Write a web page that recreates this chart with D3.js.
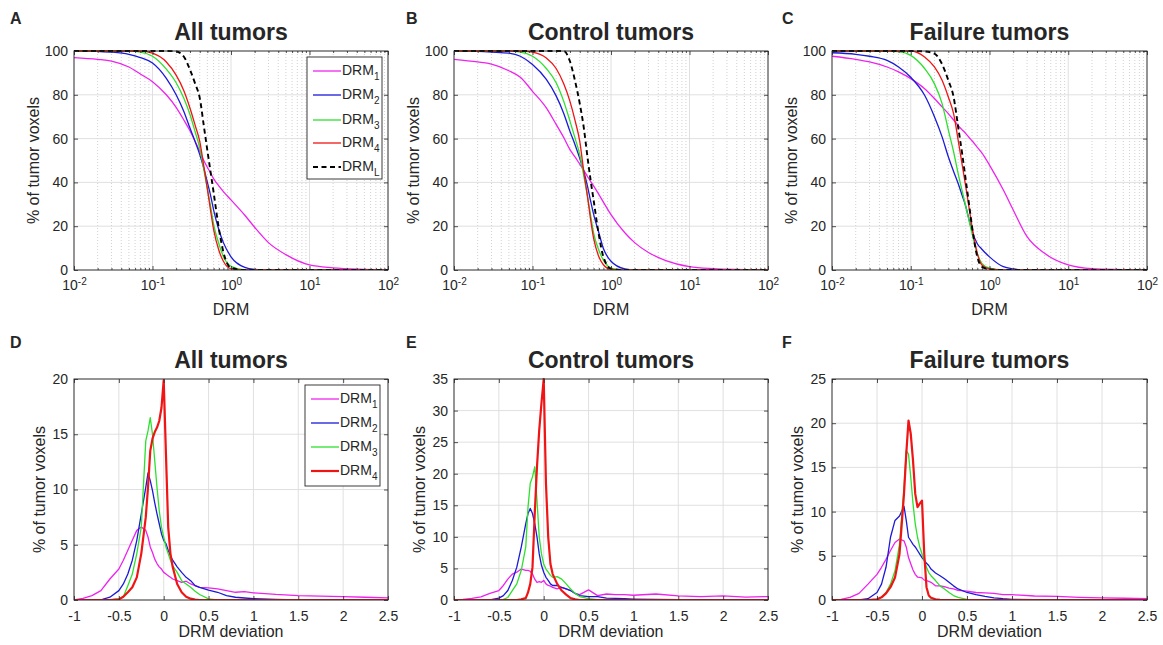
<!DOCTYPE html>
<html>
<head>
<meta charset="utf-8">
<script src="https://cdn.jsdelivr.net/npm/d3@7"></script>
<style>
  body { margin: 0; background: #fff; }
  svg { display: block; }
  text { font-family: "Liberation Sans", Arial, sans-serif; fill: #262626; }
</style>
</head>
<body>
<div id="figure"></div>
<script>
//*************************1. Data

//------------------------ cumulative curves (top row), x = DRM
const drmValues = [0.01, 0.02, 0.03, 0.05, 0.07, 0.1, 0.15, 0.2, 0.25, 0.3, 0.35, 0.4, 0.45, 0.5, 0.55, 0.6, 0.7, 0.8, 1, 1.5, 2, 3, 5, 10, 20, 50, 100]

const allDrm1 = [97, 96.2, 95.4, 92.7, 89.5, 86, 80, 74.3, 68.6, 63.6, 58.7, 54.2, 50, 46.9, 44.3, 41.7, 38.4, 35.8, 32, 25, 19.5, 12.5, 7, 2.3, 1, 0.3, 0]
const allDrm2 = [100, 99.8, 99.5, 98.5, 97, 94.5, 87.5, 80, 72.5, 64.8, 58.5, 52.7, 46.5, 40, 34, 27.5, 18.4, 12.5, 6, 1.2, 0.3, 0, 0, 0, 0, 0, 0]
const allDrm3 = [100, 100, 100, 99.9, 99.5, 97.6, 91.7, 85.5, 78.5, 71, 63, 55.7, 46, 37, 29, 21, 12, 6.2, 1.7, 0.1, 0, 0, 0, 0, 0, 0, 0]
const allDrm4 = [100, 100, 100, 100, 100, 99, 95, 89, 82, 74, 66, 58.7, 47.5, 37, 27, 18.5, 9, 4, 0.6, 0, 0, 0, 0, 0, 0, 0, 0]
const allDrmL = [100, 100, 100, 100, 100, 100, 100, 99.8, 97.5, 91.5, 85, 78.5, 66, 54.6, 44.6, 35.5, 19, 8.2, 1, 0, 0, 0, 0, 0, 0, 0, 0]

const controlDrm1 = [96.2, 95, 94, 91, 88, 81.6, 74, 66.5, 60.5, 55, 51.5, 48.3, 45.5, 42.8, 40.5, 38.4, 34.5, 31, 25.3, 17, 12.5, 8, 4.3, 1.5, 0.6, 0.2, 0]
const controlDrm2 = [100, 99.8, 99.5, 99, 97.6, 93.8, 87, 79.5, 71.5, 63.3, 57, 51, 45, 38.5, 31.5, 25.5, 17, 9.8, 4, 0.5, 0, 0, 0, 0, 0, 0, 0]
const controlDrm3 = [100, 100, 100, 99.9, 99.5, 97.6, 92, 85.5, 77, 68, 60, 52.7, 43, 34, 25, 17, 9, 4.5, 0.9, 0, 0, 0, 0, 0, 0, 0, 0]
const controlDrm4 = [100, 100, 100, 100, 100, 99.5, 96.8, 92, 85, 77, 68, 58.7, 45, 34, 23, 14.5, 6, 2.4, 0.3, 0, 0, 0, 0, 0, 0, 0, 0]
const controlDrmL = [100, 100, 100, 100, 100, 100, 100, 100, 100, 95.3, 86, 76, 65, 52, 41, 32, 16, 6, 0.6, 0, 0, 0, 0, 0, 0, 0, 0]

const failureDrm1 = [97.6, 96.2, 95, 92.7, 90.5, 87.4, 82.8, 78.3, 74.5, 71.4, 68.5, 66, 64, 62.3, 60.5, 59, 56, 53.5, 47.9, 36.5, 27.4, 15.2, 7.6, 2.3, 0.6, 0.2, 0]
const failureDrm2 = [99.2, 98.5, 97.6, 95.7, 92.7, 88, 79.8, 70, 60.8, 51.7, 45, 39.5, 34, 29, 23, 18, 12, 9.5, 6, 1.5, 0.5, 0, 0, 0, 0, 0, 0]
const failureDrm3 = [100, 100, 100, 100, 99.7, 98, 92, 85, 76, 64, 54, 44, 36, 29, 22.5, 16.7, 7.6, 3, 0.8, 0, 0, 0, 0, 0, 0, 0, 0]
const failureDrm4 = [100, 100, 100, 100, 100, 100, 97.3, 92.7, 86.6, 79, 71.4, 59.3, 48, 38, 28.5, 19.8, 7.6, 2.3, 0.5, 0, 0, 0, 0, 0, 0, 0, 0]
const failureDrmL = [100, 100, 100, 100, 100, 100, 99.8, 98.8, 94, 86.6, 79, 65.3, 53, 41, 30, 19.8, 6, 1.5, 0.3, 0, 0, 0, 0, 0, 0, 0, 0]

//------------------------ deviation histograms (bottom row), x = DRM deviation
const deviationValues = [-1, -0.9, -0.8, -0.7, -0.6, -0.5, -0.45, -0.4, -0.35, -0.3, -0.25, -0.2, -0.175, -0.15, -0.125, -0.1, -0.075, -0.05, -0.025, 0, 0.025, 0.05, 0.075, 0.1, 0.15, 0.2, 0.25, 0.3, 0.35, 0.4, 0.5, 0.6, 0.7, 0.8, 0.9, 1, 1.25, 1.5, 1.75, 2, 2.25, 2.5]

const allDev1 = [0, 0.15, 0.4, 0.85, 1.9, 2.8, 3.6, 4.5, 5.4, 6.3, 6.6, 6.3, 5.7, 4.8, 4.3, 3.7, 3.3, 3.0, 2.8, 2.5, 2.35, 2.2, 2.05, 1.9, 1.75, 1.6, 1.7, 1.45, 1.3, 1.15, 1.1, 1.0, 0.85, 0.7, 0.75, 0.65, 0.5, 0.4, 0.35, 0.3, 0.25, 0.2]
const allDev2 = [0, 0, 0, 0.02, 0.25, 0.85, 1.45, 2.35, 3.6, 5.4, 7.8, 10.2, 11.5, 10.8, 9.9, 8.8, 7.8, 6.9, 6.0, 5.4, 5.1, 4.5, 4.0, 3.6, 3.0, 2.5, 2.05, 1.75, 1.3, 1.15, 0.9, 0.7, 0.4, 0.25, 0.18, 0.12, 0.06, 0.02, 0, 0, 0, 0]
const allDev3 = [0, 0, 0, 0, 0, 0.1, 0.3, 1.3, 2.35, 4.2, 6.6, 14.4, 15.3, 16.5, 15.0, 12.6, 10.2, 8.1, 6.6, 5.7, 4.8, 4.2, 3.6, 3.1, 2.5, 1.75, 1.45, 1.15, 0.8, 0.5, 0.1, 0, 0, 0, 0, 0, 0, 0, 0, 0, 0, 0]
const allDev4 = [0, 0, 0, 0, 0, 0.06, 0.3, 0.7, 1.15, 2.05, 4.2, 7.5, 10.2, 13.5, 14.6, 15.2, 15.6, 16.2, 17.4, 19.9, 13.2, 6.6, 4.2, 3.0, 1.45, 0.7, 0.3, 0.12, 0.03, 0, 0, 0, 0, 0, 0, 0, 0, 0, 0, 0, 0, 0]

const controlDev1 = [0, 0.1, 0.25, 0.5, 1.05, 1.5, 2.3, 3.3, 4.1, 4.4, 4.9, 4.7, 4.7, 4.55, 4.1, 3.3, 2.8, 2.9, 2.8, 3.1, 2.55, 2.3, 2.2, 2.0, 1.75, 2.0, 1.75, 1.5, 1.05, 0.85, 1.6, 0.7, 0.95, 0.85, 0.85, 0.75, 0.95, 0.65, 0.55, 0.65, 0.45, 0.55]
const controlDev2 = [0, 0, 0, 0, 0, 0.3, 0.7, 1.5, 3.1, 5.2, 8.4, 12.1, 13.7, 14.5, 13.7, 12.1, 10.0, 7.3, 5.5, 4.4, 3.6, 3.1, 2.55, 2.3, 2.3, 2.0, 1.75, 1.5, 1.05, 0.7, 0.55, 0.55, 0.3, 0.25, 0.2, 0.15, 0.08, 0.04, 0, 0, 0, 0]
const controlDev3 = [0, 0, 0, 0, 0, 0, 0.1, 0.4, 1.5, 2.55, 4.7, 8.4, 14.7, 18.5, 19.5, 21.1, 15.8, 10.0, 7.3, 5.7, 4.9, 4.4, 3.9, 3.6, 3.7, 3.3, 2.55, 1.75, 1.05, 0.55, 0.2, 0.05, 0, 0, 0, 0, 0, 0, 0, 0, 0, 0]
const controlDev4 = [0, 0, 0, 0, 0, 0, 0, 0, 0, 0, 0.1, 0.3, 1.2, 2.55, 5.2, 13.7, 21.1, 26.9, 31.2, 35, 18.5, 10.0, 5.7, 4.1, 2.55, 1.5, 0.85, 0.3, 0.1, 0, 0, 0, 0, 0, 0, 0, 0, 0, 0, 0, 0, 0]

const failureDev1 = [0, 0.08, 0.3, 0.75, 1.8, 2.9, 3.7, 4.6, 5.6, 6.5, 6.9, 6.7, 6.0, 4.8, 4.1, 3.4, 2.9, 2.6, 2.55, 2.5, 2.25, 2.2, 2.1, 2.0, 1.6, 1.6, 1.5, 1.35, 1.25, 1.1, 1.0, 0.85, 0.8, 0.75, 0.6, 0.6, 0.45, 0.4, 0.3, 0.25, 0.2, 0.15]
const failureDev2 = [0, 0, 0, 0, 0.15, 0.85, 1.8, 3.7, 7.1, 9.0, 9.5, 10.6, 9.0, 7.1, 6.7, 6.3, 6.0, 5.6, 5.2, 4.8, 4.5, 4.15, 3.9, 3.5, 3.05, 2.75, 2.4, 2.0, 1.6, 1.25, 0.85, 0.6, 0.4, 0.25, 0.15, 0.08, 0.03, 0, 0, 0, 0, 0]
const failureDev3 = [0, 0, 0, 0, 0, 0.08, 0.3, 0.85, 1.8, 3.3, 6.3, 12.7, 16.9, 16.5, 13.9, 10.9, 8.6, 7.1, 6.0, 5.2, 4.45, 3.7, 3.1, 2.75, 2.2, 1.6, 1.25, 0.85, 0.5, 0.3, 0.08, 0, 0, 0, 0, 0, 0, 0, 0, 0, 0, 0]
const failureDev4 = [0, 0, 0, 0, 0, 0.08, 0.3, 0.75, 1.45, 2.55, 5.2, 12.0, 16.5, 20.3, 18.8, 15.8, 12.0, 10.5, 10.9, 11.25, 5.2, 1.45, 0.5, 0.25, 0.08, 0.03, 0, 0, 0, 0, 0, 0, 0, 0, 0, 0, 0, 0, 0, 0, 0, 0]

//------------------------ labels and ticks
const cdfYTicks = [0, 20, 40, 60, 80, 100]
const cdfXTicks = [0.01, 0.1, 1, 10, 100]
const devXTicks = [-1, -0.5, 0, 0.5, 1, 1.5, 2, 2.5]
const seriesNames = ["1", "2", "3", "4", "L"]

//*************************2. Styles & layout

const lineStyles = [
    { color: "#ee22ee", width: 1.3, dash: null },
    { color: "#1a1ad8", width: 1.3, dash: null },
    { color: "#2ee02e", width: 1.3, dash: null },
    { color: "#f01414", width: 1.3, dash: null },
    { color: "#000000", width: 1.9, dash: "5,3.5" }
]

const topRow = { top: 51, bottom: 270 }
const bottomRow = { top: 379, bottom: 600 }
const columns = [
    { left: 74, right: 388, letterX: 10 },
    { left: 454, right: 768, letterX: 406 },
    { left: 832, right: 1147, letterX: 782 }
]

const svg = d3.select("#figure")
    .append("svg")
    .attr("width", 1163)
    .attr("height", 645)

let clipCount = 0

//*************************3. Helpers

function drawFrame(g, left, right, top, bottom) {
    g.append("rect")
        .attr("x", left).attr("y", top)
        .attr("width", right - left).attr("height", bottom - top)
        .attr("fill", "none")
        .attr("stroke", "#262626")
        .attr("stroke-width", 0.9)
}

function styleAxis(sel) {
    sel.select(".domain").remove()
    sel.selectAll(".tick line").attr("stroke", "#262626").attr("stroke-width", 0.8)
    sel.selectAll("text").attr("fill", "#262626").style("font-size", "14px").attr("font-family", null)
}

function drawLegend(g, x, y, w, h, rows, names, styles) {
    g.append("rect")
        .attr("x", x).attr("y", y).attr("width", w).attr("height", h)
        .attr("fill", "#fff").attr("stroke", "#262626").attr("stroke-width", 0.9)
    const item = g.selectAll(".legend-item")
        .data(names)
        .join("g")
        .attr("transform", (d, i) => `translate(${x}, ${rows[i]})`)
    item.append("line")
        .attr("x1", 6).attr("x2", 34)
        .attr("stroke", (d, i) => styles[i].color)
        .attr("stroke-width", (d, i) => styles[i].width)
        .attr("stroke-dasharray", (d, i) => styles[i].dash)
    const label = item.append("text")
        .attr("x", 35).attr("y", 4)
        .style("font-size", "14px")
    label.append("tspan").text("DRM")
    label.append("tspan").attr("dy", 5).style("font-size", "10px").text(d => d)
}

function drawTitles(g, col, top, bottom, letter, title, xLabel, xLabelY, yLabelX, letterY) {
    g.append("text")
        .attr("x", col.letterX).attr("y", letterY)
        .style("font-size", "16px").style("font-weight", "bold")
        .attr("fill", "#000")
        .text(letter)
    g.append("text")
        .attr("x", (col.left + col.right) / 2).attr("y", top - 11)
        .attr("text-anchor", "middle")
        .style("font-size", "23px").style("font-weight", "bold")
        .attr("fill", "#000")
        .text(title)
    g.append("text")
        .attr("x", (col.left + col.right) / 2).attr("y", xLabelY)
        .attr("text-anchor", "middle")
        .style("font-size", "16px")
        .text(xLabel)
    g.append("text")
        .attr("transform", `translate(${col.left - yLabelX}, ${(top + bottom) / 2}) rotate(-90)`)
        .attr("text-anchor", "middle")
        .style("font-size", "16px")
        .text("% of tumor voxels")
}

function clipFor(g, left, right, top, bottom) {
    const id = "clip" + (clipCount++)
    g.append("clipPath").attr("id", id)
        .append("rect")
        .attr("x", left).attr("y", top - 1)
        .attr("width", right - left).attr("height", bottom - top + 1)
    return id
}

//*************************4. Top row: cumulative DRM curves

function drawCumulative(colIndex, letter, title, series, legend) {
    const col = columns[colIndex]
    const { top, bottom } = topRow
    const g = svg.append("g")

    const xScale = d3.scaleLog().domain([0.01, 100]).range([col.left, col.right])
    const yScale = d3.scaleLinear().domain([0, 100]).range([bottom, top])

    const minorTicks = []
    for (let e = -2; e < 2; e++) {
        for (let m = 2; m < 10; m++) minorTicks.push(m * Math.pow(10, e))
    }

    // grid
    g.append("g").selectAll("line")
        .data(minorTicks)
        .join("line")
        .attr("x1", d => xScale(d)).attr("x2", d => xScale(d))
        .attr("y1", top).attr("y2", bottom)
        .attr("stroke", "#bdbdbd").attr("stroke-width", 0.7)
        .attr("stroke-dasharray", "1,2")
    g.append("g").selectAll("line")
        .data(cdfXTicks)
        .join("line")
        .attr("x1", d => xScale(d)).attr("x2", d => xScale(d))
        .attr("y1", top).attr("y2", bottom)
        .attr("stroke", "#dcdcdc").attr("stroke-width", 0.9)
    g.append("g").selectAll("line")
        .data(cdfYTicks)
        .join("line")
        .attr("x1", col.left).attr("x2", col.right)
        .attr("y1", d => yScale(d)).attr("y2", d => yScale(d))
        .attr("stroke", "#dcdcdc").attr("stroke-width", 0.9)

    // lines
    const clipId = clipFor(g, col.left, col.right, top, bottom)
    const lineGen = d3.line()
        .x((d, i) => xScale(drmValues[i]))
        .y(d => yScale(d))
        .curve(d3.curveMonotoneX)
    g.append("g").attr("clip-path", `url(#${clipId})`)
        .selectAll("path")
        .data(series)
        .join("path")
        .attr("d", d => lineGen(d))
        .attr("fill", "none")
        .attr("stroke", (d, i) => lineStyles[i].color)
        .attr("stroke-width", (d, i) => lineStyles[i].width)
        .attr("stroke-dasharray", (d, i) => lineStyles[i].dash)

    drawFrame(g, col.left, col.right, top, bottom)

    // axes
    const xAxis = g.append("g")
        .attr("transform", `translate(0, ${bottom})`)
        .call(d3.axisBottom(xScale).tickValues(cdfXTicks).tickSize(-4).tickPadding(10).tickFormat(""))
        .call(styleAxis)
    xAxis.selectAll(".tick text").each(function (d) {
        const t = d3.select(this)
        t.append("tspan").text("10")
        t.append("tspan").attr("dy", "-0.45em").style("font-size", "10px").text(Math.round(Math.log10(d)))
    })
    g.append("g").attr("transform", `translate(0, ${bottom})`)
        .call(d3.axisBottom(xScale).tickValues(minorTicks).tickSize(-2).tickFormat(""))
        .call(styleAxis)
    g.append("g").attr("transform", `translate(0, ${top})`)
        .call(d3.axisTop(xScale).tickValues(cdfXTicks).tickSize(-4).tickFormat(""))
        .call(styleAxis)
    g.append("g").attr("transform", `translate(0, ${top})`)
        .call(d3.axisTop(xScale).tickValues(minorTicks).tickSize(-2).tickFormat(""))
        .call(styleAxis)
    g.append("g").attr("transform", `translate(${col.left}, 0)`)
        .call(d3.axisLeft(yScale).tickValues(cdfYTicks).tickSize(-4).tickPadding(6))
        .call(styleAxis)
    g.append("g").attr("transform", `translate(${col.right}, 0)`)
        .call(d3.axisRight(yScale).tickValues(cdfYTicks).tickSize(-4).tickFormat(""))
        .call(styleAxis)

    drawTitles(g, col, top, bottom, letter, title, "DRM", 315, 35, 24)

    if (legend) {
        drawLegend(g, 307, 57, 75, 122, [71, 95, 120, 143, 167], seriesNames, lineStyles)
    }
}

//*************************5. Bottom row: DRM deviation histograms

function drawDeviation(colIndex, letter, title, series, yMax, legend) {
    const col = columns[colIndex]
    const { top, bottom } = bottomRow
    const g = svg.append("g")

    const xScale = d3.scaleLinear().domain([-1, 2.5]).range([col.left, col.right])
    const yScale = d3.scaleLinear().domain([0, yMax]).range([bottom, top])
    const yTicks = d3.range(0, yMax + 0.1, 5)

    g.append("g").selectAll("line")
        .data(devXTicks)
        .join("line")
        .attr("x1", d => xScale(d)).attr("x2", d => xScale(d))
        .attr("y1", top).attr("y2", bottom)
        .attr("stroke", "#dcdcdc").attr("stroke-width", 0.9)
    g.append("g").selectAll("line")
        .data(yTicks)
        .join("line")
        .attr("x1", col.left).attr("x2", col.right)
        .attr("y1", d => yScale(d)).attr("y2", d => yScale(d))
        .attr("stroke", "#dcdcdc").attr("stroke-width", 0.9)

    const clipId = clipFor(g, col.left, col.right, top, bottom)
    const lineGen = d3.line()
        .x((d, i) => xScale(deviationValues[i]))
        .y(d => yScale(d))
    const devStyles = lineStyles.slice(0, 4).map((s, i) => ({ ...s, width: i === 3 ? 2.2 : 1.3 }))
    g.append("g").attr("clip-path", `url(#${clipId})`)
        .selectAll("path")
        .data(series)
        .join("path")
        .attr("d", d => lineGen(d))
        .attr("fill", "none")
        .attr("stroke", (d, i) => devStyles[i].color)
        .attr("stroke-width", (d, i) => devStyles[i].width)
        .attr("stroke-linejoin", "round")

    drawFrame(g, col.left, col.right, top, bottom)

    g.append("g").attr("transform", `translate(0, ${bottom})`)
        .call(d3.axisBottom(xScale).tickValues(devXTicks).tickSize(-4).tickPadding(11).tickFormat(d => String(d)))
        .call(styleAxis)
    g.append("g").attr("transform", `translate(0, ${top})`)
        .call(d3.axisTop(xScale).tickValues(devXTicks).tickSize(-4).tickFormat(""))
        .call(styleAxis)
    g.append("g").attr("transform", `translate(${col.left}, 0)`)
        .call(d3.axisLeft(yScale).tickValues(yTicks).tickSize(-4).tickPadding(6))
        .call(styleAxis)
    g.append("g").attr("transform", `translate(${col.right}, 0)`)
        .call(d3.axisRight(yScale).tickValues(yTicks).tickSize(-4).tickFormat(""))
        .call(styleAxis)

    drawTitles(g, col, top, bottom, letter, title, "DRM deviation", 637, 29, 348)

    if (legend) {
        drawLegend(g, 305, 385, 75, 101, [399, 423, 447, 471], seriesNames.slice(0, 4), devStyles)
    }
}

//*************************6. Draw

drawCumulative(0, "A", "All tumors", [allDrm1, allDrm2, allDrm3, allDrm4, allDrmL], true)
drawCumulative(1, "B", "Control tumors", [controlDrm1, controlDrm2, controlDrm3, controlDrm4, controlDrmL], false)
drawCumulative(2, "C", "Failure tumors", [failureDrm1, failureDrm2, failureDrm3, failureDrm4, failureDrmL], false)

drawDeviation(0, "D", "All tumors", [allDev1, allDev2, allDev3, allDev4], 20, true)
drawDeviation(1, "E", "Control tumors", [controlDev1, controlDev2, controlDev3, controlDev4], 35, false)
drawDeviation(2, "F", "Failure tumors", [failureDev1, failureDev2, failureDev3, failureDev4], 25, false)
</script>
</body>
</html>
